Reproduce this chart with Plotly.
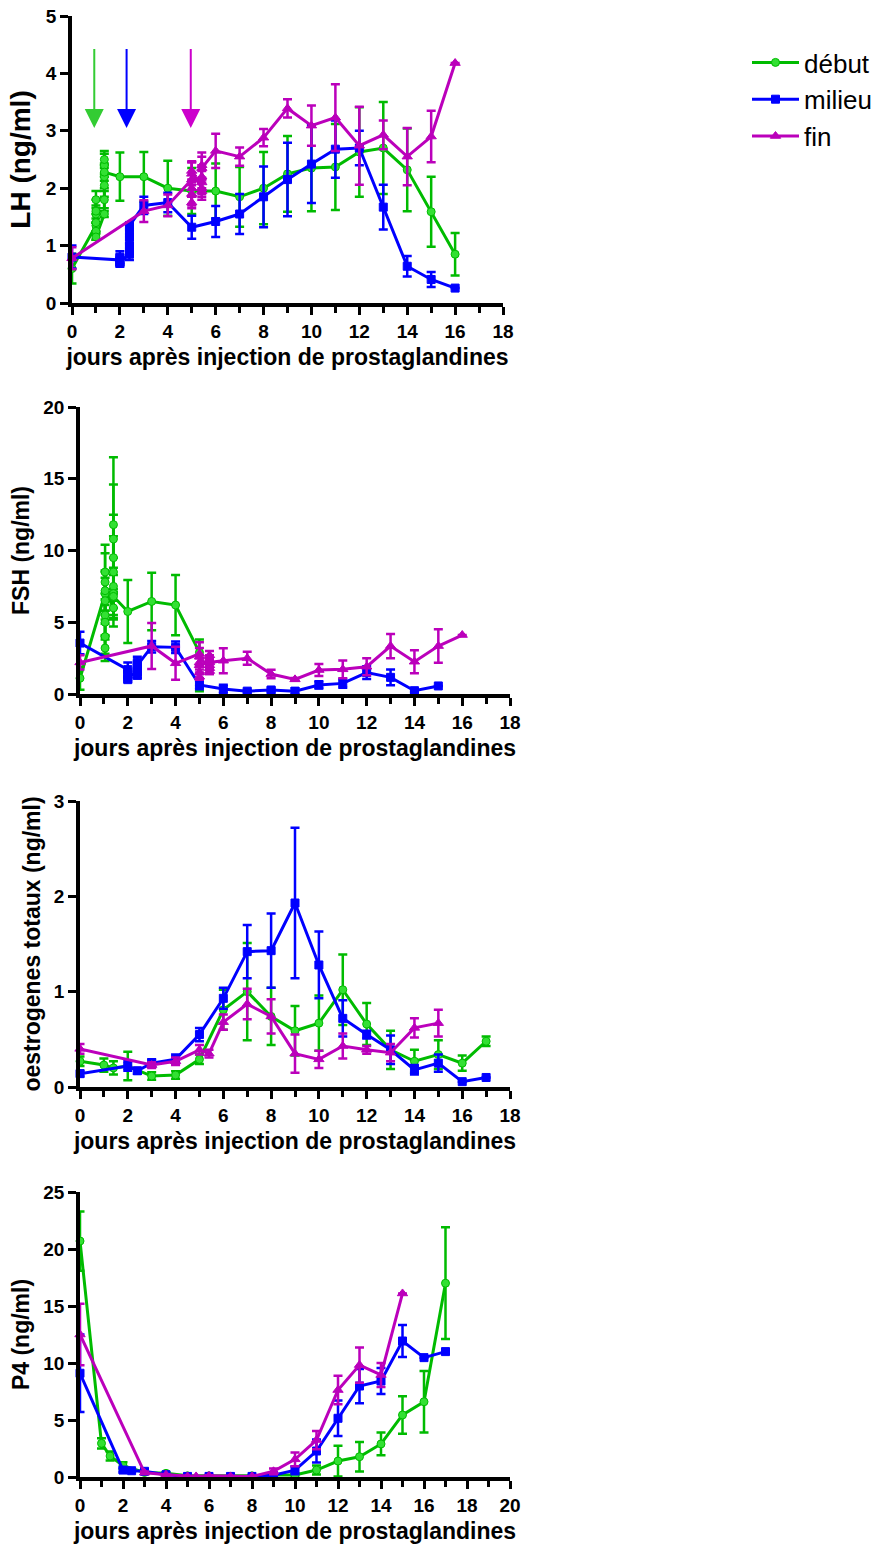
import plotly.graph_objects as go

# ---------------- DATA ----------------
series_names = ["début", "milieu", "fin"]
x_title = "jours après injection de prostaglandines"

# LH (ng/ml)
LH_debut_days = [0, 1, 1, 1, 1, 1, 1, 1, 1.35, 1.35, 1.35, 1.35, 1.35, 1.35, 1.35,
                 2, 3, 4, 5, 6, 7, 8, 9, 10, 11, 12, 13, 14, 15, 16]
LH_debut = [0.6, 1.35, 1.55, 1.8, 1.6, 1.4, 1.25, 1.15, 1.55, 1.8, 2.05, 2.4, 2.5, 2.2, 2.28,
            2.2, 2.2, 2.0, 1.95, 1.95, 1.85, 2.0, 2.25, 2.35, 2.37, 2.63, 2.7, 2.32, 1.59, 0.85]
LH_debut_err = [0.26, 0.12, 0.15, 0.15, 0.2, 0.15, 0.15, 0.05, 0.05, 0.15, 0.2, 0.2, 0.15, 0.2, 0.15,
                0.42, 0.43, 0.48, 0.4, 0.48, 0.52, 0.63, 0.66, 0.75, 0.75, 0.78, 0.8, 0.72, 0.61, 0.37]

LH_milieu_days = [0, 2, 2, 2, 2, 2.4, 2.4, 2.4, 2.4, 2.4, 2.4,
                  3, 4, 5, 6, 7, 8, 9, 10, 11, 12, 13, 14, 15, 16]
LH_milieu = [0.8, 0.75, 0.7, 0.8, 0.72, 0.85, 1.0, 1.15, 0.95, 1.25, 1.35,
             1.7, 1.75, 1.32, 1.42, 1.55, 1.85, 2.15, 2.42, 2.68, 2.7, 1.67, 0.64, 0.41, 0.26]
LH_milieu_err = [0.2, 0.08, 0.07, 0.1, 0.06, 0.1, 0.1, 0.12, 0.1, 0.1, 0.05,
                 0.15, 0.17, 0.2, 0.27, 0.35, 0.53, 0.64, 0.68, 0.5, 0.3, 0.39, 0.18, 0.13, 0]

LH_fin_days = [0, 3, 4, 5, 5, 5, 5, 5, 5, 5.42, 5.42, 5.42, 5.42, 5.42, 5.42,
               6, 7, 8, 9, 10, 11, 12, 13, 14, 15, 16]
LH_fin = [0.78, 1.6, 1.7, 2.15, 1.9, 1.75, 2.0, 2.25, 2.3, 2.0, 2.2, 2.4, 2.1, 1.95, 2.35,
          2.65, 2.55, 2.88, 3.39, 3.09, 3.23, 2.74, 2.93, 2.55, 2.9, 4.18]
LH_fin_err = [0.19, 0.19, 0.19, 0.3, 0.2, 0.1, 0.15, 0.2, 0.17, 0.15, 0.2, 0.22, 0.2, 0.15, 0.2,
              0.3, 0.16, 0.15, 0.16, 0.35, 0.58, 0.68, 0.25, 0.5, 0.45, 0]

# FSH (ng/ml)
FSH_debut_days = [0, 1.05, 1.05, 1.05, 1.05, 1.05, 1.05, 1.05, 1.05, 1.05,
                  1.4, 1.4, 1.4, 1.4, 1.4, 1.4, 1.4, 1.4, 2, 3, 4, 5, 5]
FSH_debut = [1.1, 7.0, 5.5, 4.0, 3.2, 5.0, 6.5, 7.8, 8.5, 7.2,
             6.0, 7.5, 9.5, 11.8, 10.8, 8.5, 7.0, 6.8, 5.75, 6.45, 6.2, 2.9, 0.6]
FSH_debut_err = [0.8, 1.5, 1.5, 1.2, 0.9, 1.2, 1.6, 2.0, 1.9, 1.4,
                 1.3, 2.0, 3.0, 4.7, 3.8, 2.5, 1.8, 1.5, 2.2, 2.0, 2.1, 0.9, 0.4]

FSH_milieu_days = [0, 2, 2, 2, 2, 2.4, 2.4, 2.4, 2.4, 2.4,
                   3, 4, 5, 6, 7, 8, 9, 10, 11, 12, 13, 14, 15]
FSH_milieu = [3.55, 1.7, 1.3, 1.0, 1.4, 1.3, 1.8, 2.2, 1.6, 2.0,
              3.3, 3.25, 0.63, 0.35, 0.2, 0.28, 0.2, 0.63, 0.74, 1.49, 1.16, 0.23, 0.56]
FSH_milieu_err = [0.78, 0.5, 0.3, 0.15, 0.3, 0.2, 0.3, 0.4, 0.3, 0.3,
                  0.4, 0.4, 0.3, 0.3, 0.1, 0.15, 0.2, 0.25, 0.3, 0.45, 0.55, 0.1, 0]

FSH_fin_days = [0, 3, 4, 5, 5, 5, 5, 5, 5, 5.42, 5.42, 5.42, 5.42, 5.42, 5.42,
                6, 7, 8, 9, 10, 11, 12, 13, 14, 15, 16]
FSH_fin = [2.2, 3.35, 2.14, 2.8, 2.2, 1.5, 1.2, 2.0, 2.6, 1.8, 2.3, 2.7, 2.0, 1.6, 2.2,
           2.32, 2.49, 1.39, 1.02, 1.67, 1.72, 1.9, 3.34, 2.25, 3.34, 4.11]
FSH_fin_err = [0.5, 1.6, 1.15, 0.8, 0.5, 0.4, 0.2, 0.5, 0.6, 0.4, 0.4, 0.3, 0.3, 0.2, 0.3,
               0.87, 0.46, 0.3, 0.1, 0.42, 0.62, 0.6, 0.84, 0.8, 1.17, 0]

# oestrogenes totaux (ng/ml)
E_debut_days = [0, 1, 1.4, 2, 3, 4, 5, 6, 7, 8, 9, 10, 11, 12, 13, 14, 15, 16, 17]
E_debut = [0.27, 0.23, 0.2, 0.22, 0.115, 0.126, 0.29, 0.81, 1.0, 0.74, 0.59, 0.67, 1.02,
           0.66, 0.39, 0.27, 0.34, 0.25, 0.48]
E_debut_err = [0.05, 0.07, 0.07, 0.15, 0.04, 0.04, 0.05, 0.21, 0.51, 0.3, 0.26, 0.29, 0.37,
               0.22, 0.2, 0.12, 0.15, 0.08, 0.05]

E_milieu_days = [0, 2, 2.4, 3, 4, 5, 6, 7, 8, 9, 10, 11, 12, 13, 14, 15, 16, 17]
E_milieu = [0.14, 0.22, 0.17, 0.25, 0.29, 0.55, 0.93, 1.42, 1.43, 1.93, 1.28, 0.72, 0.55,
            0.39, 0.18, 0.25, 0.056, 0.1]
E_milieu_err = [0.03, 0.05, 0.03, 0.04, 0.05, 0.07, 0.11, 0.28, 0.39, 0.79, 0.35, 0.19, 0.04,
                0.15, 0.05, 0.09, 0, 0]

E_fin_days = [0, 3, 4, 5, 5.4, 6, 7, 8, 9, 10, 11, 12, 13, 14, 15]
E_fin = [0.4, 0.23, 0.27, 0.39, 0.35, 0.68, 0.87, 0.74, 0.35, 0.29, 0.43, 0.39, 0.36, 0.62, 0.67]
E_fin_err = [0.05, 0.03, 0.04, 0.05, 0.04, 0.08, 0.16, 0.18, 0.2, 0.09, 0.13, 0.04, 0.09, 0.1, 0.14]

# P4 (ng/ml)
P4_debut_days = [0, 1, 1.4, 2, 3, 4, 5, 6, 7, 8, 9, 10, 11, 12, 13, 14, 15, 16, 17]
P4_debut = [20.7, 2.95, 1.84, 1.0, 0.4, 0.32, 0.1, 0.1, 0.05, 0.1, 0.17, 0.17, 0.61, 1.4,
            1.78, 2.9, 5.44, 6.6, 17.0]
P4_debut_err = [2.6, 0.45, 0.4, 0.3, 0.1, 0.1, 0.05, 0.05, 0.03, 0.05, 0.1, 0.15, 0.4, 1.35,
                1.3, 1.0, 1.65, 2.7, 4.9]

P4_milieu_days = [0, 2, 2.4, 3, 4, 5, 6, 7, 8, 9, 10, 11, 12, 13, 14, 15, 16, 17]
P4_milieu = [9.1, 0.61, 0.55, 0.5, 0.2, 0.05, 0.05, 0.05, 0.05, 0.15, 0.6, 2.28, 5.15, 7.98,
             8.42, 11.93, 10.47, 11.0]
P4_milieu_err = [3.4, 0.2, 0.1, 0.1, 0.05, 0.03, 0.03, 0.03, 0.03, 0.1, 0.35, 1.0, 1.55, 1.5,
                 1.15, 1.4, 0, 0]

P4_fin_days = [0, 3, 4, 5, 5.4, 6, 7, 8, 9, 10, 11, 12, 13, 14, 15]
P4_fin = [12.5, 0.38, 0.2, 0.05, 0.05, 0.1, 0.05, 0.05, 0.5, 1.55, 3.24, 7.63, 9.82, 8.95, 16.1]
P4_fin_err = [2.7, 0.1, 0.05, 0.03, 0.03, 0.05, 0.03, 0.03, 0.25, 0.6, 0.8, 1.25, 1.55, 1.05, 0]

# injection arrows on LH panel (day, top, tip)
arrow_days = [0.93, 2.28, 4.96]
arrow_top = 4.45
arrow_tip = 3.05

# ---------------- STYLE ----------------
FONT = "Liberation Sans, Arial, sans-serif"
colors = ["#00bb00", "#0000ff", "#bb00bb"]
arrow_colors = ["#33cc33", "#0000ff", "#cc00cc"]
fills = ["#33e033", "#0000ff", "#bb00bb"]
symbols = ["circle", "square", "triangle-up"]
msizes = [8, 8, 9]

panels = [
    dict(title="LH (ng/ml)", tsize=28, rng=[0, 5], dtick=1, xr=[0, 18],
         data=[(LH_debut_days, LH_debut, LH_debut_err),
               (LH_milieu_days, LH_milieu, LH_milieu_err),
               (LH_fin_days, LH_fin, LH_fin_err)]),
    dict(title="FSH (ng/ml)", tsize=23, rng=[0, 20], dtick=5, xr=[0, 18],
         data=[(FSH_debut_days, FSH_debut, FSH_debut_err),
               (FSH_milieu_days, FSH_milieu, FSH_milieu_err),
               (FSH_fin_days, FSH_fin, FSH_fin_err)]),
    dict(title="oestrogenes totaux (ng/ml)", tsize=23, rng=[0, 3], dtick=1, xr=[0, 18],
         data=[(E_debut_days, E_debut, E_debut_err),
               (E_milieu_days, E_milieu, E_milieu_err),
               (E_fin_days, E_fin, E_fin_err)]),
    dict(title="P4 (ng/ml)", tsize=23, rng=[0, 25], dtick=5, xr=[0, 20],
         data=[(P4_debut_days, P4_debut, P4_debut_err),
               (P4_milieu_days, P4_milieu, P4_milieu_err),
               (P4_fin_days, P4_fin, P4_fin_err)]),
]

W, H = 886, 1546
# pixel boxes: (x0, x1, ytop, ybottom)
boxes = [(72, 503, 16, 303), (80, 510, 407, 694), (80, 510, 801, 1087), (80, 510, 1192, 1477)]

fig = go.Figure()
layout = dict(width=W, height=H, margin=dict(l=0, r=0, t=0, b=0),
              paper_bgcolor="white", plot_bgcolor="white", template="none",
              font=dict(family=FONT, color="black"))

for i, (p, box) in enumerate(zip(panels, boxes)):
    sfx = "" if i == 0 else str(i + 1)
    xa, ya = "x" + sfx, "y" + sfx
    x0, x1, yt, yb = box
    layout["xaxis" + sfx] = dict(
        domain=[x0 / W, x1 / W], anchor=ya, range=p["xr"], tick0=0, dtick=2,
        showline=True, linecolor="black", linewidth=3.5, ticks="outside", ticklen=8,
        tickwidth=3, tickcolor="black", showgrid=False, zeroline=False, automargin=False,
        minor=dict(dtick=1, tick0=0, ticks="outside", ticklen=6, tickwidth=2.5, tickcolor="black", showgrid=False),
        tickfont=dict(family=FONT, size=19, weight="bold", color="black"),
        title=dict(text=x_title, font=dict(family=FONT, size=23, weight="bold", color="black"), standoff=9),
    )
    layout["yaxis" + sfx] = dict(
        domain=[1 - yb / H, 1 - yt / H], anchor=xa, range=p["rng"], tick0=0, dtick=p["dtick"],
        showline=True, linecolor="black", linewidth=3.5, ticks="outside", ticklen=8,
        tickwidth=3, tickcolor="black", showgrid=False, zeroline=False, automargin=False,
        tickfont=dict(family=FONT, size=19, weight="bold", color="black"),
        title=dict(text=p["title"], font=dict(family=FONT, size=p["tsize"], weight="bold", color="black"), standoff=8),
    )
    for k, (xs, ys, es) in enumerate(p["data"]):
        fig.add_trace(go.Scatter(
            x=xs, y=ys, xaxis=xa, yaxis=ya, mode="lines+markers",
            name=series_names[k], legendgroup=series_names[k], showlegend=(i == 0),
            line=dict(color=colors[k], width=3),
            marker=dict(symbol=symbols[k], size=msizes[k], color=fills[k],
                        line=dict(color=colors[k], width=1)),
            error_y=dict(type="data", array=es, visible=True, color=colors[k], thickness=2.5, width=4.5),
            cliponaxis=False,
        ))

annotations = []
for d, c in zip(arrow_days, arrow_colors):
    annotations.append(dict(x=d, y=arrow_tip, ax=d, ay=arrow_top, xref="x", yref="y",
                            axref="x", ayref="y", text="", showarrow=True, arrowhead=2,
                            arrowsize=1.9, arrowwidth=2, arrowcolor=c))
layout["annotations"] = annotations
layout["legend"] = dict(x=747 / W, y=1 - 39 / H, xanchor="left", yanchor="top",
                        font=dict(family=FONT, size=26, color="black"), itemwidth=47,
                        bgcolor="rgba(0,0,0,0)", tracegroupgap=0)
fig.update_layout(**layout)
fig.write_html("out.html")
